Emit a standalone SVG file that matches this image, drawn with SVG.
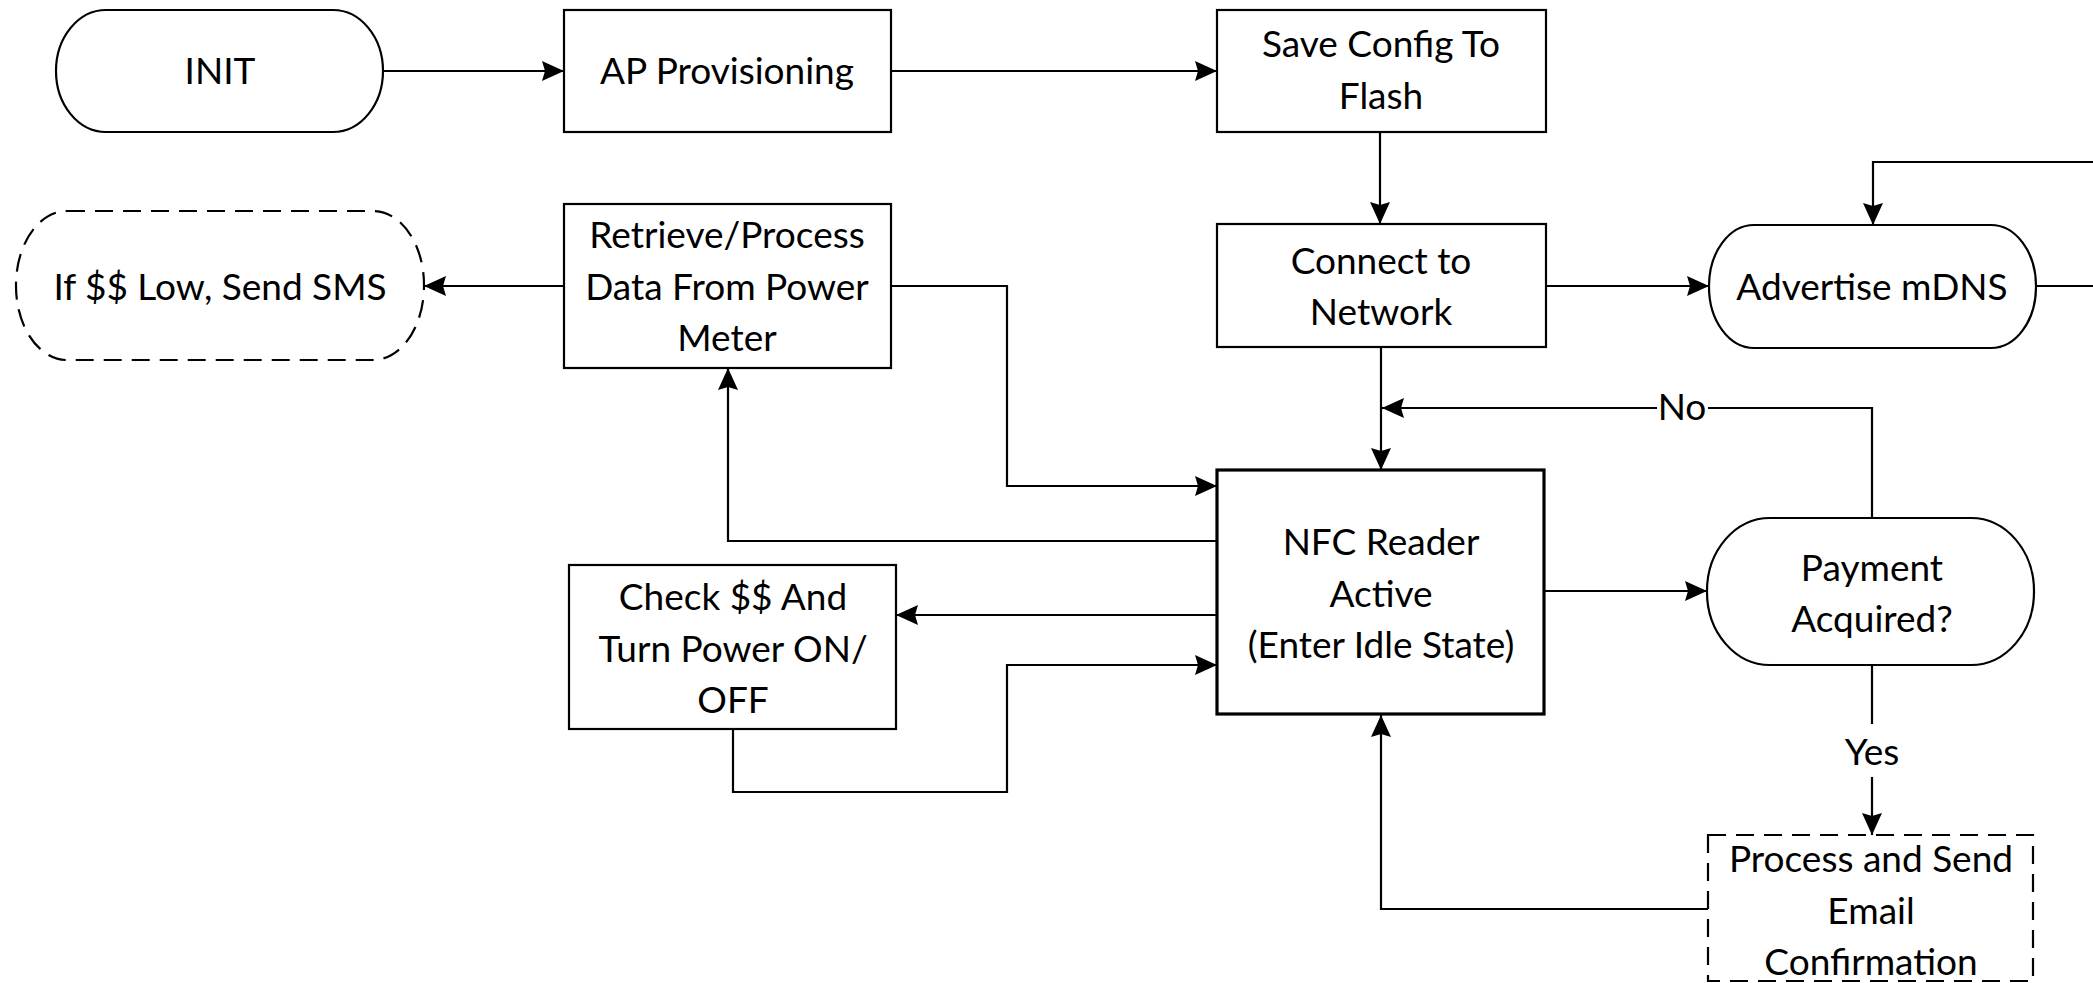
<svg xmlns="http://www.w3.org/2000/svg" width="2093" height="983" viewBox="0 0 2093 983">
<style>
.s{fill:#fff;stroke:#000;stroke-width:2.2}
.d{fill:#fff;stroke:#000;stroke-width:2.2;stroke-dasharray:18 10}
.n{fill:#fff;stroke:#000;stroke-width:3.2}
.c{fill:none;stroke:#000;stroke-width:2.2}
.a{marker-end:url(#arr)}
text{font-family:Lato,"Noto Sans",sans-serif;font-size:37px;fill:#000;text-anchor:middle}
</style>
<defs>
<marker id="arr" markerUnits="userSpaceOnUse" markerWidth="24" markerHeight="22" refX="22" refY="10" orient="auto"><path d="M0,0 L22,10 L0,20 L3,10 z" fill="#000"/></marker>
</defs>
<rect width="2093" height="983" fill="#fff"/>
<g id="connectors">
<path class="c a" d="M383,71 H564"/>
<path class="c a" d="M891,71 H1217"/>
<path class="c a" d="M1380,132 V224"/>
<path class="c a" d="M1546,286 H1709"/>
<path class="c a" d="M2093,162 H1873 V225"/>
<path class="c" d="M2036,286 H2093"/>
<path class="c a" d="M564,286 H424"/>
<path class="c a" d="M891,286 H1007 V486 H1217"/>
<path class="c a" d="M1217,541 H728 V368"/>
<path class="c a" d="M1217,615 H896"/>
<path class="c a" d="M733,729 V792 H1007 V665 H1217"/>
<path class="c a" d="M1381,347 V470"/>
<path class="c" d="M1872,518 V408 H1708"/>
<path class="c a" d="M1657,408 H1382"/>
<path class="c a" d="M1544,591 H1707"/>
<path class="c" d="M1872,665 V724"/>
<path class="c a" d="M1872,777 V835"/>
<path class="c a" d="M1708,909 H1381 V715"/>
<text x="1682" y="420">No</text>
<text x="1872" y="765">Yes</text>
</g>
<g id="init"><rect class="s" x="56" y="10" width="327" height="122" rx="50" ry="61"/><text x="220" y="84">INIT</text></g>
<g id="ap"><rect class="s" x="564" y="10" width="327" height="122"/><text x="727" y="84">AP Provisioning</text></g>
<g id="save"><rect class="s" x="1217" y="10" width="329" height="122"/><text x="1381" y="57">Save Config To</text><text x="1381" y="109">Flash</text></g>
<g id="connect"><rect class="s" x="1217" y="224" width="329" height="123"/><text x="1381" y="274">Connect to</text><text x="1381" y="325">Network</text></g>
<g id="mdns"><rect class="s" x="1709" y="225" width="327" height="123" rx="45" ry="61"/><text x="1872" y="300">Advertise mDNS</text></g>
<g id="retrieve"><rect class="s" x="564" y="204" width="327" height="164"/><text x="727" y="248">Retrieve/Process</text><text x="727" y="300">Data From Power</text><text x="727" y="351">Meter</text></g>
<g id="sms"><rect class="d" x="16" y="211" width="408" height="149" rx="51" ry="74"/><text x="220" y="300">If $$ Low, Send SMS</text></g>
<g id="nfc"><rect class="n" x="1217" y="470" width="327" height="244"/><text x="1381" y="555">NFC Reader</text><text x="1381" y="607">Active</text><text x="1381" y="658">(Enter Idle State)</text></g>
<g id="check"><rect class="s" x="569" y="565" width="327" height="164"/><text x="733" y="610">Check $$ And</text><text x="733" y="662">Turn Power ON/</text><text x="733" y="713">OFF</text></g>
<g id="payment"><rect class="s" x="1707" y="518" width="327" height="147" rx="63" ry="73"/><text x="1872" y="581">Payment</text><text x="1872" y="632">Acquired?</text></g>
<g id="process"><rect class="d" x="1708" y="835" width="325" height="146"/><text x="1871" y="872">Process and Send</text><text x="1871" y="924">Email</text><text x="1871" y="975">Confirmation</text></g>
</svg>
